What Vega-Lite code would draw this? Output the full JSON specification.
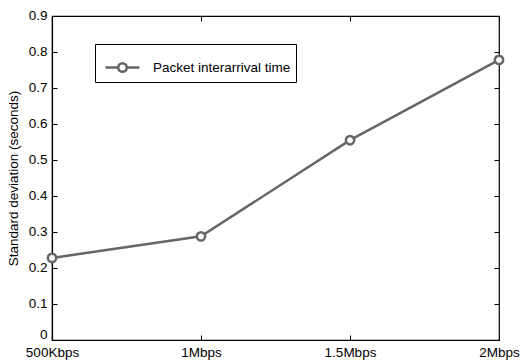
{
  "$schema": "https://vega.github.io/schema/vega-lite/v6.json",
  "width": 447,
  "height": 324,
  "autosize": {"type": "none"},
  "padding": {"left": 52, "top": 16, "right": 21, "bottom": 21},
  "background": "white",
  "config": {
    "font": "Liberation Sans",
    "view": {"stroke": "black", "strokeWidth": 1.2},
    "axis": {
      "domainColor": "black",
      "domainWidth": 1.2,
      "tickColor": "black",
      "tickWidth": 1,
      "labelColor": "black",
      "labelFont": "Liberation Sans",
      "labelFontSize": 13.5,
      "titleFont": "Liberation Sans",
      "titleFontSize": 13.5,
      "titleFontWeight": "normal",
      "titleColor": "black",
      "grid": false
    }
  },
  "data": {
    "values": [
      {"rate": 0.5, "sd": 0.228, "series": "Packet interarrival time"},
      {"rate": 1.0, "sd": 0.288, "series": "Packet interarrival time"},
      {"rate": 1.5, "sd": 0.555, "series": "Packet interarrival time"},
      {"rate": 2.0, "sd": 0.778, "series": "Packet interarrival time"}
    ]
  },
  "resolve": {"axis": {"x": "independent", "y": "independent"}},
  "layer": [
    {
      "mark": {"type": "line", "strokeWidth": 2.5, "point": {"filled": false, "size": 70, "strokeWidth": 2.5, "fill": "white", "color": "#666666"}},
      "encoding": {
        "x": {
          "field": "rate", "type": "quantitative",
          "scale": {"domain": [0.5, 2], "nice": false, "zero": false},
          "axis": {
            "orient": "bottom", "title": null, "values": [0.5, 1, 1.5, 2],
            "labelExpr": "datum.value == 0.5 ? '500Kbps' : datum.value + 'Mbps'",
            "tickSize": -5, "labelPadding": 10, "labelFlush": false, "labelOverlap": false
          }
        },
        "y": {
          "field": "sd", "type": "quantitative",
          "scale": {"domain": [0, 0.9], "nice": false},
          "axis": {
            "orient": "left", "title": "Standard deviation (seconds)",
            "values": [0, 0.1, 0.2, 0.3, 0.4, 0.5, 0.6, 0.7, 0.8, 0.9],
            "format": ".1~f", "tickSize": -5, "labelPadding": 10, "titlePadding": 8,
            "labelOffset": {"condition": {"test": "datum.value == 0", "value": -6}, "value": -1}
          }
        },
        "color": {
          "field": "series", "type": "nominal",
          "scale": {"range": ["#666666"]},
          "legend": {
            "title": null,
            "orient": "none",
            "legendX": 43,
            "legendY": 28,
            "strokeColor": "black",
            "fillColor": "white",
            "padding": 5,
            "labelFontSize": 13.5,
            "labelColor": "black",
            "labelFont": "Liberation Sans",
            "labelExpr": "datum.label + '\u00a0\u00a0'",
            "symbolType": "M -1 0 H -0.25 M 0.25 0 H 1 M -0.25 0 A 0.25 0.25 0 1 1 0.25 0 A 0.25 0.25 0 1 1 -0.25 0",
            "symbolSize": 1156,
            "symbolOffset": 4,
            "symbolStrokeWidth": 2.5,
            "symbolFillColor": "white",
            "symbolStrokeColor": "#666666",
            "labelOffset": 12
          }
        }
      }
    },
    {
      "mark": {"type": "point", "opacity": 0},
      "encoding": {
        "x": {
          "field": "rate", "type": "quantitative",
          "axis": {"orient": "top", "title": null, "values": [0.5, 1, 1.5, 2], "labels": false, "domain": false, "tickSize": -5}
        },
        "y": {
          "field": "sd", "type": "quantitative",
          "axis": {"orient": "right", "title": null, "values": [0, 0.1, 0.2, 0.3, 0.4, 0.5, 0.6, 0.7, 0.8, 0.9], "labels": false, "domain": false, "tickSize": -5}
        }
      }
    }
  ]
}
